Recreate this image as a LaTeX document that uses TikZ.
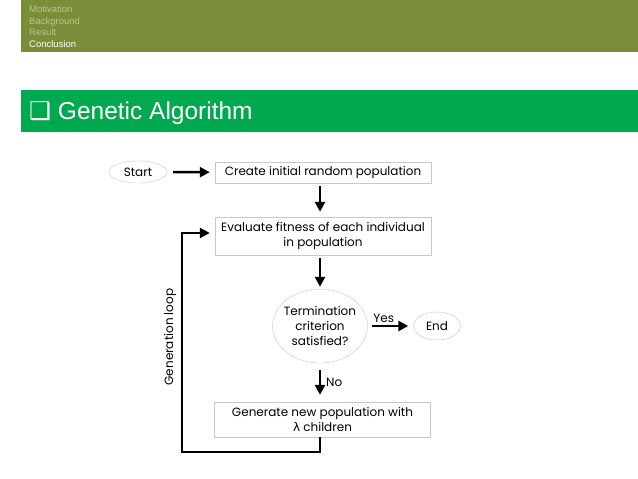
\documentclass[tikz,border=0pt]{standalone}
\usepackage{fontspec}
\setmainfont{Liberation Sans}
\newfontfamily\flowfont{Poppins}
\newfontfamily\symfont{DejaVu Sans}
\usetikzlibrary{arrows.meta,shapes.geometric}

\definecolor{barolive}{RGB}{122,142,58}
\definecolor{bargreen}{RGB}{0,168,80}
\definecolor{menugrey}{RGB}{184,196,142}
\definecolor{boxline}{RGB}{200,200,200}

\tikzset{
    stepbox/.style={draw=boxline, fill=white, minimum width=216pt, align=center,
        inner sep=0pt, font=\flowfont\fontsize{12}{15}\selectfont},
    oval/.style={ellipse, draw=boxline, fill=white, align=center, inner sep=0pt,
        font=\flowfont\fontsize{12}{15}\selectfont},
    flowarrow/.style={-{Triangle[length=10pt,width=10pt]}, line width=2.4pt},
    menuitem/.style={anchor=base west, inner sep=0pt, font=\fontsize{9.5}{11}\selectfont},
    flowlabel/.style={font=\flowfont\fontsize{12}{15}\selectfont, inner sep=2pt}
}

\begin{document}
\begin{tikzpicture}[x=1pt, y=-1pt]
    \useasboundingbox (0,0) rectangle (638,479);

    % Header bar with outline
    \fill[barolive] (21,0) rectangle (638,52);
    \node[menuitem, text=menugrey] (motivation) at (29,12.5) {Motivation};
    \node[menuitem, text=menugrey] (background) at (29,24) {Background};
    \node[menuitem, text=menugrey] (result) at (29,35.5) {Result};
    \node[menuitem, text=white] (conclusion) at (29,47) {Conclusion};

    % Section title
    \fill[bargreen] (21,90) rectangle (638,132);
    \node[anchor=base west, inner sep=0pt, text=white, font=\fontsize{24.5}{28}\selectfont]
        (title) at (29,119) {{\symfont ❑} Genetic Algorithm};

    % Flowchart
    \node[oval, minimum width=58pt, minimum height=22pt] (start) at (138,172) {Start};
    \node[stepbox, minimum height=21pt] (create) at (323,172.5) {Create initial random population};
    \node[stepbox, minimum height=38pt] (eval) at (323,236) {Evaluate fitness of each individual\\in population};
    \node[oval, inner xsep=-3pt, minimum width=95pt, minimum height=74pt] (term) at (320,326) {Termination\\criterion\\satisfied?};
    \node[oval, minimum width=47pt, minimum height=28pt] (end) at (437,326) {End};
    \node[stepbox, minimum height=35pt] (gen) at (322.5,419.5) {Generate new population with\\{\symfont λ} children};

    \draw[flowarrow, shorten <=6pt, shorten >=5pt] (start) -- (create);
    \draw[flowarrow, shorten <=3pt, shorten >=5pt] (create.south -| term) -- (eval.north -| term);
    \draw[flowarrow, shorten <=3pt, shorten >=2pt] (eval.south -| term) -- (term);
    \draw[flowarrow, shorten <=4pt, shorten >=5pt] (term) -- (end) node[flowlabel, pos=0.35, above] (yes) {Yes};
    \draw[flowarrow, shorten <=7pt, shorten >=7pt] (term) -- (gen.north -| term) node[flowlabel, midway, right, xshift=3pt] (no) {No};

    % Generation loop
    \coordinate (loopcorner) at (182,452);
    \draw[flowarrow, shorten >=5pt] (gen.south -| term) |- (loopcorner) |- ([yshift=3pt]eval.west);
    \node[flowlabel, rotate=90] (looplabel) at (170,337) {Generation loop};
\end{tikzpicture}
\end{document}
